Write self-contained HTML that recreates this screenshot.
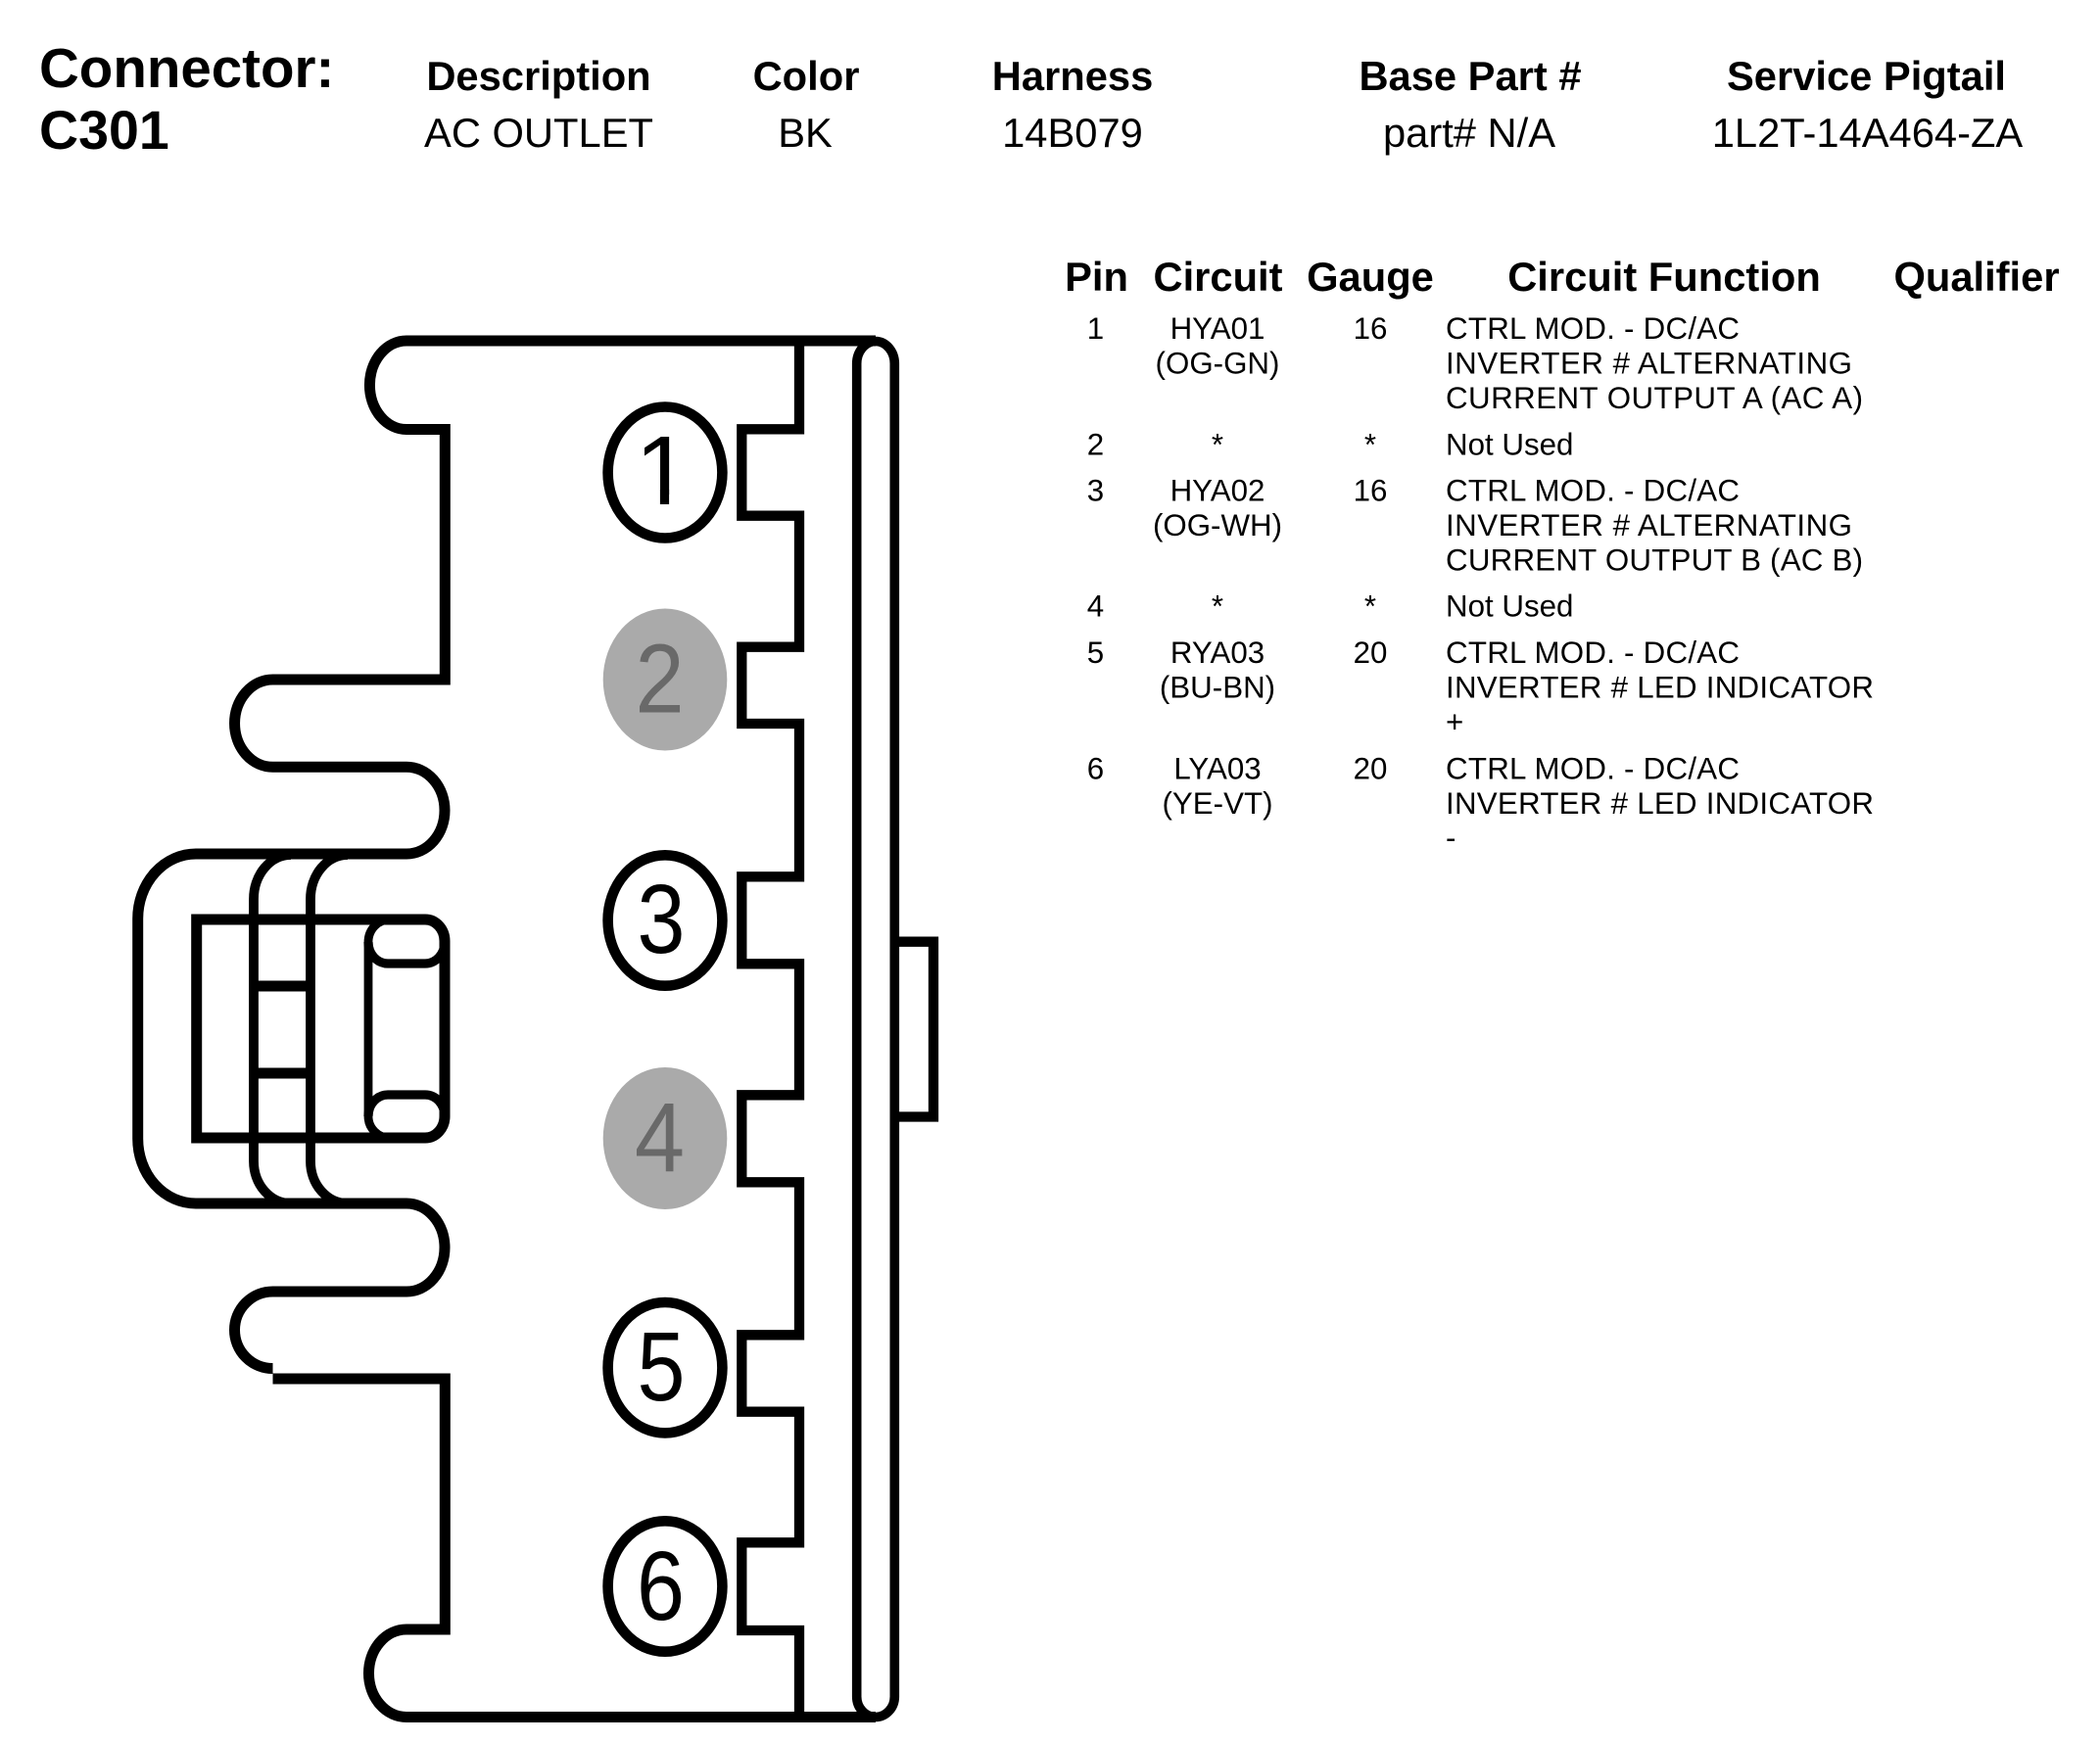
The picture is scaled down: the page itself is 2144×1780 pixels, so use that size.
<!DOCTYPE html>
<html>
<head>
<meta charset="utf-8">
<style>
html,body{margin:0;padding:0;background:#fff;width:2144px;height:1780px;overflow:hidden}
svg{display:block}
text{font-family:"Liberation Sans",Arial,sans-serif;fill:#000}
.b{font-weight:bold}
.h{font-weight:bold;font-size:41.7px;text-anchor:middle}
.v{font-size:41.7px;text-anchor:middle}
.t{font-size:31.3px}
.c{font-size:31.3px;text-anchor:middle}
.d{font-size:100px;text-anchor:middle}
</style>
</head>
<body>
<svg width="2144" height="1780" viewBox="0 0 2144 1780" xmlns="http://www.w3.org/2000/svg">
<rect width="2144" height="1780" fill="#fff"/>

<!-- Header -->
<text class="b" x="40" y="89" font-size="56.5">Connector:</text>
<text class="b" x="40" y="152" font-size="55.5">C301</text>
<text class="h" x="550" y="92">Description</text>
<text class="h" x="823" y="92">Color</text>
<text class="h" x="1095" y="92">Harness</text>
<text class="h" x="1501" y="92">Base Part #</text>
<text class="h" x="1905.5" y="92">Service Pigtail</text>
<text class="v" x="550" y="150">AC OUTLET</text>
<text class="v" x="822" y="150">BK</text>
<text class="v" x="1095" y="150">14B079</text>
<text class="v" x="1500" y="150">part# N/A</text>
<text class="v" x="1906.5" y="150">1L2T-14A464-ZA</text>

<!-- Table headers -->
<text class="h" x="1119.5" y="297">Pin</text>
<text class="h" x="1243.5" y="297">Circuit</text>
<text class="h" x="1399" y="297">Gauge</text>
<text class="h" x="1699" y="297">Circuit Function</text>
<text class="h" x="2018" y="297">Qualifier</text>

<!-- Row 1 -->
<text class="c" x="1118.5" y="346">1</text>
<text class="c" x="1243" y="346">HYA01</text>
<text class="c" x="1243" y="381.5">(OG-GN)</text>
<text class="c" x="1399" y="346">16</text>
<text class="t" x="1476" y="346" textLength="300" lengthAdjust="spacing">CTRL MOD. - DC/AC</text>
<text class="t" x="1476" y="381.5" textLength="415" lengthAdjust="spacing">INVERTER # ALTERNATING</text>
<text class="t" x="1476" y="417" textLength="426" lengthAdjust="spacing">CURRENT OUTPUT A (AC A)</text>
<!-- Row 2 -->
<text class="c" x="1118.5" y="464.5">2</text>
<text class="c" x="1243" y="464.5">*</text>
<text class="c" x="1399" y="464.5">*</text>
<text class="t" x="1476" y="464.5">Not Used</text>
<!-- Row 3 -->
<text class="c" x="1118.5" y="511.5">3</text>
<text class="c" x="1243" y="511.5">HYA02</text>
<text class="c" x="1243" y="547">(OG-WH)</text>
<text class="c" x="1399" y="511.5">16</text>
<text class="t" x="1476" y="511.5" textLength="300" lengthAdjust="spacing">CTRL MOD. - DC/AC</text>
<text class="t" x="1476" y="547" textLength="415" lengthAdjust="spacing">INVERTER # ALTERNATING</text>
<text class="t" x="1476" y="582.5" textLength="426" lengthAdjust="spacing">CURRENT OUTPUT B (AC B)</text>
<!-- Row 4 -->
<text class="c" x="1118.5" y="629.5">4</text>
<text class="c" x="1243" y="629.5">*</text>
<text class="c" x="1399" y="629.5">*</text>
<text class="t" x="1476" y="629.5">Not Used</text>
<!-- Row 5 -->
<text class="c" x="1118.5" y="677">5</text>
<text class="c" x="1243" y="677">RYA03</text>
<text class="c" x="1243" y="712.5">(BU-BN)</text>
<text class="c" x="1399" y="677">20</text>
<text class="t" x="1476" y="677" textLength="300" lengthAdjust="spacing">CTRL MOD. - DC/AC</text>
<text class="t" x="1476" y="712.5" textLength="437" lengthAdjust="spacing">INVERTER # LED INDICATOR</text>
<text class="t" x="1476" y="748">+</text>
<!-- Row 6 -->
<text class="c" x="1118.5" y="795.5">6</text>
<text class="c" x="1243" y="795.5">LYA03</text>
<text class="c" x="1243" y="831">(YE-VT)</text>
<text class="c" x="1399" y="795.5">20</text>
<text class="t" x="1476" y="795.5" textLength="300" lengthAdjust="spacing">CTRL MOD. - DC/AC</text>
<text class="t" x="1476" y="831" textLength="437" lengthAdjust="spacing">INVERTER # LED INDICATOR</text>
<text class="t" x="1476" y="866">-</text>

<!-- Connector outline -->
<g fill="none" stroke="#000" stroke-linejoin="miter">
  <path stroke-width="11" d="M894 348H415A37.4 45 0 0 0 415 438.5H454.3V694H278.5A39 44.65 0 0 0 278.5 783.3H415A39 44.35 0 0 1 415 872H200A59.3 66 0 0 0 140.7 938V1163A59.3 66 0 0 0 200 1229H415A39 45 0 0 1 415 1319H278.5A39 39.25 0 0 0 278.5 1397.5"/>
  <path stroke-width="11" d="M278.5 1408H454.3V1664H415A38.3 44.5 0 0 0 415 1753.5H894"/>
  <path stroke-width="10.3" d="M816 348V438.3H757.3V526.7H816V660.7H757.3V739H816V895.3H757.3V984.3H816V1118.3H757.3V1207.3H816V1363.3H757.3V1441.7H816V1575.3H757.3V1665H816V1753"/>
  <path stroke-width="9.6" d="M874.7 372A19.5 23 0 0 1 894 348.5A19.5 23 0 0 1 913.3 372V1732A19.5 21 0 0 1 894 1753.5A19.5 21 0 0 1 874.7 1732Z"/>
  <path stroke-width="10.3" d="M913 961.7H953V1140.5H913"/>
  <!-- latch -->
  <path stroke-width="11" d="M200.7 939H434A20 22 0 0 1 454 961V1140A20 22 0 0 1 434 1162H200.7Z"/>
  <path stroke-width="9.8" d="M297 873A38 45 0 0 0 259 918V1186A38 43 0 0 0 297 1229"/>
  <path stroke-width="9.8" d="M355 873A38 45 0 0 0 317 918V1186A38 43 0 0 0 355 1229"/>
  <path stroke-width="11" d="M259 1007H317M259 1096H317"/>
  <path stroke-width="8.8" d="M398 939A22 23 0 0 0 376 962V1140A22 22 0 0 0 398 1162"/>
  <path stroke-width="9.2" d="M454 962A20 22 0 0 1 434 984H396A20 22 0 0 1 376 962"/>
  <path stroke-width="9.2" d="M454 1140A20 22 0 0 0 434 1118H396A20 22 0 0 0 376 1140"/>
  <!-- pin circles -->
  <ellipse cx="679" cy="482.5" rx="58.4" ry="67" stroke-width="10.6"/>
  <ellipse cx="679" cy="940" rx="58.4" ry="66.7" stroke-width="10.6"/>
  <ellipse cx="679" cy="1396.7" rx="58.4" ry="66.7" stroke-width="10.6"/>
  <ellipse cx="679" cy="1620" rx="58.4" ry="66.7" stroke-width="10.6"/>
</g>
<ellipse cx="679" cy="694" rx="63.3" ry="72.5" fill="#aaa"/>
<ellipse cx="679" cy="1162.5" rx="63.3" ry="72.5" fill="#aaa"/>

<!-- digits -->
<text class="d" transform="translate(676.7,515) scale(1.03,1)">1</text>
<rect x="645" y="505" width="70" height="12" fill="#fff"/>
<rect x="673.9" y="500" width="9.2" height="15" fill="#000"/>
<text class="d" transform="translate(673.5,727.5) scale(.9,1)" style="fill:#696969">2</text>
<text class="d" transform="translate(675,973) scale(.88,1)">3</text>
<text class="d" transform="translate(673.5,1196) scale(.92,1)" style="fill:#696969">4</text>
<text class="d" transform="translate(675,1430) scale(.88,1)">5</text>
<text class="d" transform="translate(674.5,1654) scale(.88,1)">6</text>
</svg>
</body>
</html>
